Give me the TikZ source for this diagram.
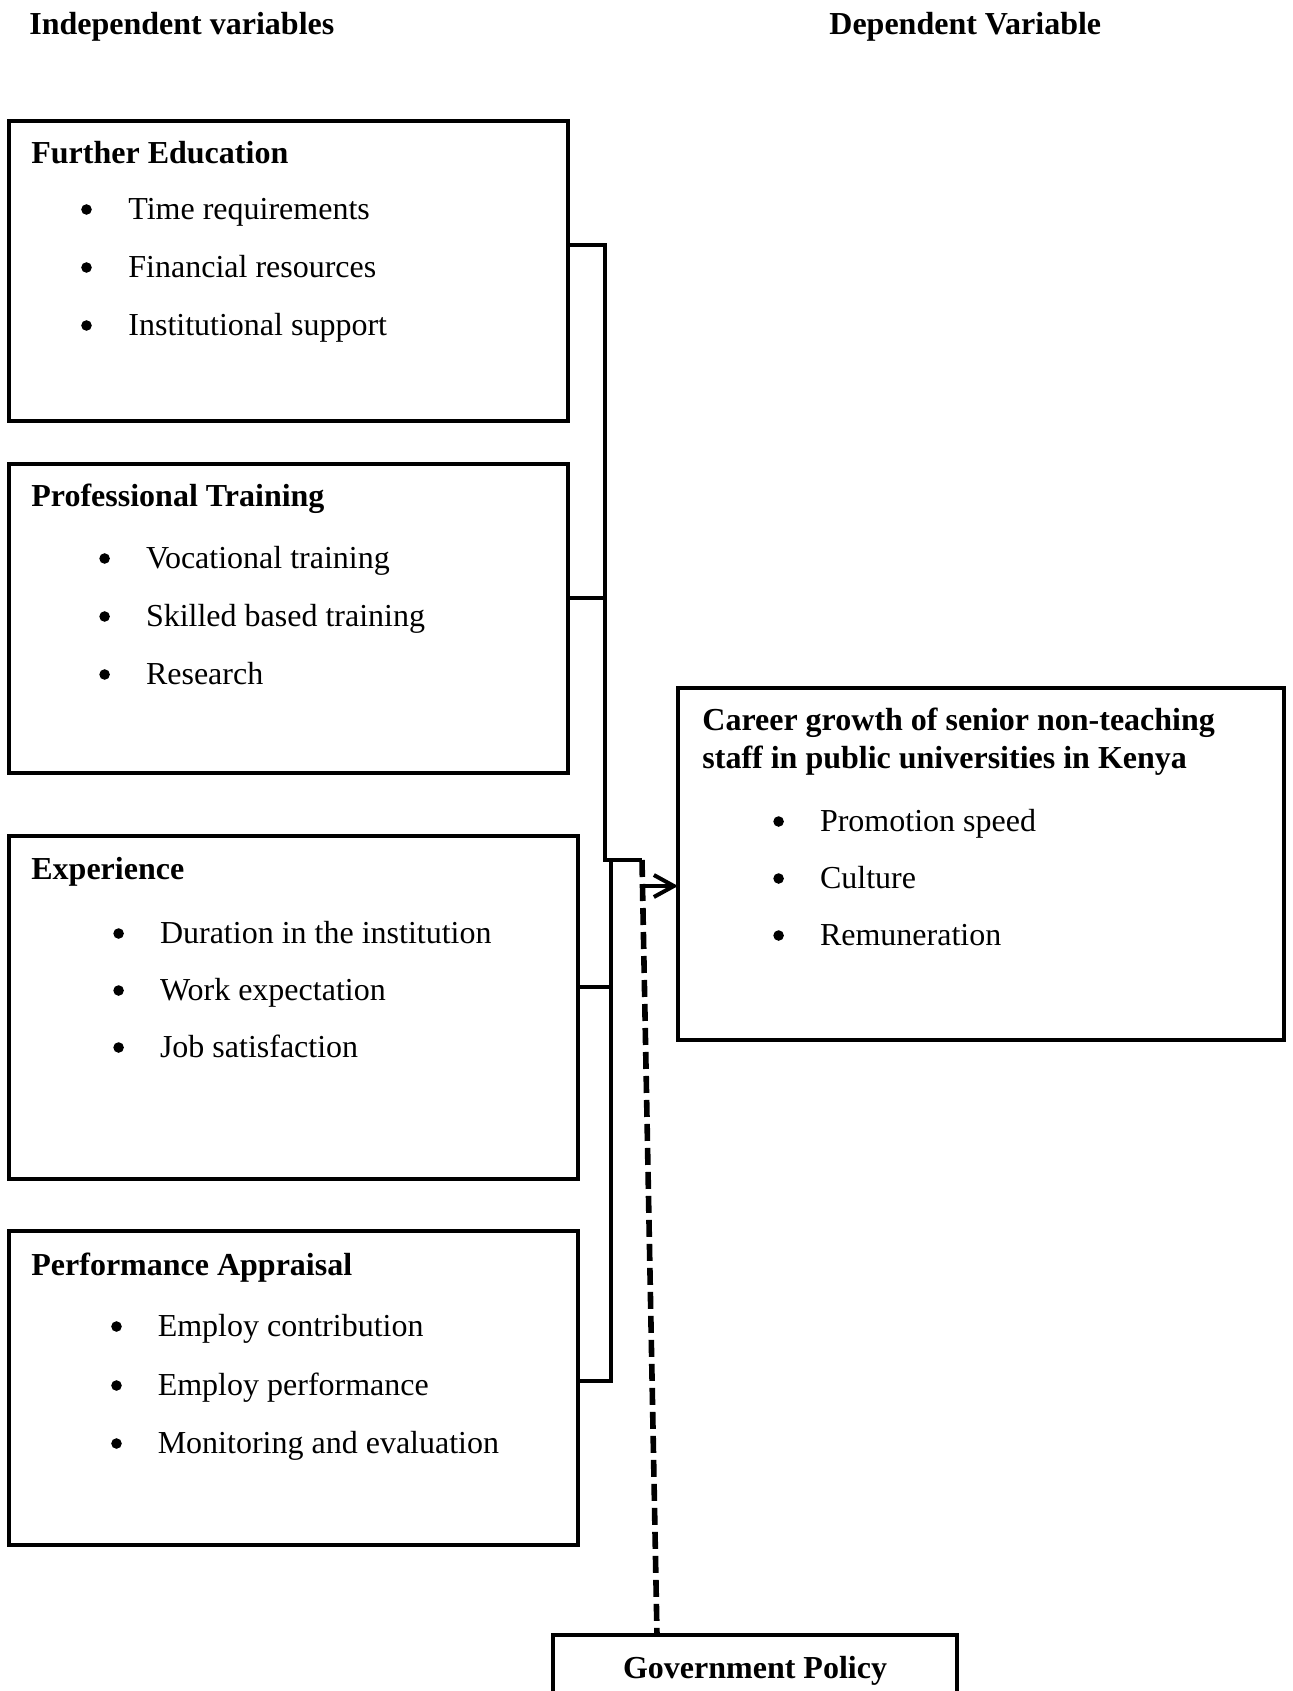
\documentclass[tikz,border=0pt]{standalone}
\usepackage{fontspec}
\setmainfont{Liberation Serif}
\usetikzlibrary{arrows.meta}
\begin{document}
\begin{tikzpicture}[x=0.5pt,y=-0.5pt,
  box/.style={draw, line width=2pt, rectangle, inner sep=0pt, outer sep=0pt, anchor=north west},
  hdr/.style={anchor=base west, inner sep=0pt, font=\fontsize{16pt}{19pt}\selectfont\bfseries},
  itm/.style={anchor=base west, inner sep=0pt, font=\fontsize{16pt}{19pt}\selectfont},
  bul/.style={circle, fill, inner sep=0pt, minimum size=5.3pt},
  conn/.style={line width=2pt, line join=miter},
  dashln/.style={line width=2.8pt, dash pattern=on 8.5pt off 3.5pt},
  arr/.style={line width=2pt, -{Straight Barb[length=10pt,width=11pt,line width=2pt]}}
]
\useasboundingbox (0,0) rectangle (1293,1691);
\fill[white] (0,0) rectangle (1293,1691);

% headers
\node[hdr] (hind) at (29,35) {Independent variables};
\node[hdr] (hdep) at (829,35) {Dependent Variable};

% boxes
\node[box, minimum width=279.5pt, minimum height=150pt] (fe) at (9,121) {};
\node[box, minimum width=279.5pt, minimum height=154.5pt] (pt) at (9,464) {};
\node[box, minimum width=284.5pt, minimum height=171.5pt] (ex) at (9,836) {};
\node[box, minimum width=284.5pt, minimum height=157pt] (pa) at (9,1231) {};
\node[box, minimum width=303pt, minimum height=176pt] (cg) at (678,688) {};
\node[box, anchor=center, minimum width=202pt, minimum height=32pt] (gov) at (755,1667) {};

% box 1
\node[hdr] (fet) at (31,163) {Further Education};
\node[bul] (feb1) at (86.5,209.5) {};
\node[bul] (feb2) at (86.5,267.5) {};
\node[bul] (feb3) at (86.5,325.5) {};
\node[itm] (fei1) at (128,219) {Time requirements};
\node[itm] (fei2) at (128,277) {Financial resources};
\node[itm] (fei3) at (128,335) {Institutional support};

% box 2
\node[hdr] (ptt) at (31,506) {Professional Training};
\node[bul] (ptb1) at (104.6,558.5) {};
\node[bul] (ptb2) at (104.6,616.5) {};
\node[bul] (ptb3) at (104.6,674.5) {};
\node[itm] (pti1) at (145.6,568) {Vocational training};
\node[itm] (pti2) at (145.6,626) {Skilled based training};
\node[itm] (pti3) at (145.6,684) {Research};

% box 3
\node[hdr] (ext) at (31,879) {Experience};
\node[bul] (exb1) at (118.6,933.5) {};
\node[bul] (exb2) at (118.6,990.5) {};
\node[bul] (exb3) at (118.6,1047.5) {};
\node[itm] (exi1) at (159.6,943) {Duration in the institution};
\node[itm] (exi2) at (159.6,1000) {Work expectation};
\node[itm] (exi3) at (159.6,1057) {Job satisfaction};

% box 4
\node[hdr] (pat) at (31,1275) {Performance Appraisal};
\node[bul] (pab1) at (116.5,1326.5) {};
\node[bul] (pab2) at (116.5,1385.5) {};
\node[bul] (pab3) at (116.5,1443.5) {};
\node[itm] (pai1) at (157.4,1336) {Employ contribution};
\node[itm] (pai2) at (157.4,1395) {Employ performance};
\node[itm] (pai3) at (157.4,1453) {Monitoring and evaluation};

% dependent box
\node[hdr] (cgt1) at (702,730) {Career growth of senior non-teaching};
\node[hdr] (cgt2) at (702,768) {staff in public universities in Kenya};
\node[bul] (cgb1) at (778.6,821.5) {};
\node[bul] (cgb2) at (778.6,878.5) {};
\node[bul] (cgb3) at (778.6,935.5) {};
\node[itm] (cgi1) at (819.6,831) {Promotion speed};
\node[itm] (cgi2) at (819.6,888) {Culture};
\node[itm] (cgi3) at (819.6,945) {Remuneration};

% government policy
\node[anchor=base, inner sep=0pt, font=\fontsize{16pt}{19pt}\selectfont\bfseries] (govt) at (755,1678) {Government Policy};

% connectors
\coordinate (ja) at (605,245);
\coordinate (jb) at (605,598);
\coordinate (jc) at (605,860);
\coordinate (jd) at (642,860);
\coordinate (kt) at (611,860);
\coordinate (ke) at (611,987);
\coordinate (kf) at (611,1381);
\coordinate (as) at (644,886);
\coordinate (gtop) at (657,1635);

\draw[conn] (ja -| fe.east) -- (ja) -- (jc) -- (jd);
\draw[conn] (jb -| pt.east) -- (jb);
\draw[conn] (kt) -- (kf) -- (kf -| pa.east);
\draw[conn] (ke -| ex.east) -- (ke);
\draw[dashln] (jd) -- (gtop);
\draw[arr] (as) -- (as -| cg.west);
\end{tikzpicture}
\end{document}
